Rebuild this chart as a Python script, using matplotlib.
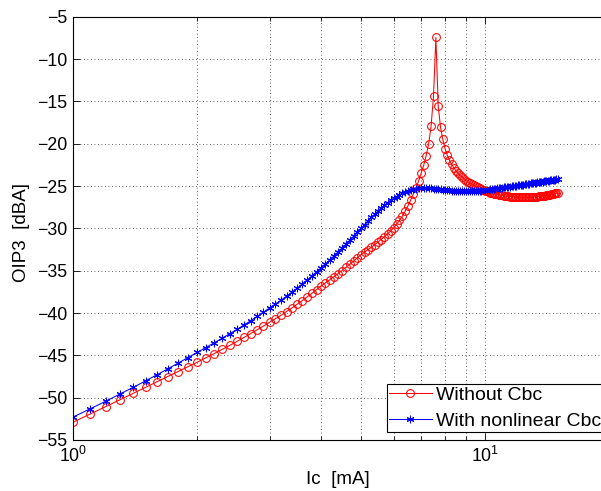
import numpy as np
import matplotlib
matplotlib.use('Agg')
import matplotlib.pyplot as plt
from matplotlib.ticker import LogLocator, NullFormatter

plt.rcParams['font.family'] = ['Liberation Sans', 'DejaVu Sans']
plt.rcParams['mathtext.fontset'] = 'custom'
plt.rcParams['mathtext.rm'] = 'Liberation Sans'
plt.rcParams['mathtext.it'] = 'Liberation Sans:italic'
plt.rcParams['mathtext.default'] = 'regular'

# Collector current sweep [mA]
ic_ma = np.round(np.arange(10, 151) / 10, 1)

oip3_without_cbc = [
    -52.90, -51.94, -51.06, -50.25, -49.49, -48.78, -48.12, -47.50, -46.91, -46.35,
    -45.82, -45.30, -44.80, -44.31, -43.83, -43.36, -42.89, -42.43, -41.98, -41.54,
    -41.10, -40.68, -40.26, -39.83, -39.40, -38.97, -38.54, -38.11, -37.68, -37.24,
    -36.80, -36.44, -36.08, -35.72, -35.35, -34.98, -34.61, -34.24, -33.86, -33.48,
    -33.10, -32.81, -32.52, -32.23, -31.93, -31.63, -31.32, -31.00, -30.67, -30.32,
    -29.95, -29.53, -29.07, -28.56, -27.99, -27.36, -26.68, -25.96, -25.22, -24.42,
    -23.50, -22.55, -21.40, -20.00, -17.90, -14.40, -7.45, -15.55, -18.05, -19.50,
    -20.60, -21.35, -21.95, -22.45, -22.85, -23.20, -23.50, -23.75, -23.97, -24.17,
    -24.35, -24.51, -24.66, -24.80, -24.93, -25.05, -25.16, -25.27, -25.37, -25.46,
    -25.55, -25.63, -25.70, -25.77, -25.83, -25.89, -25.94, -25.99, -26.03, -26.07,
    -26.11, -26.14, -26.17, -26.20, -26.22, -26.24, -26.26, -26.28, -26.29, -26.30,
    -26.31, -26.32, -26.32, -26.33, -26.33, -26.33, -26.33, -26.32, -26.32, -26.31,
    -26.30, -26.29, -26.28, -26.26, -26.25, -26.23, -26.21, -26.19, -26.17, -26.15,
    -26.12, -26.10, -26.07, -26.04, -26.01, -25.98, -25.95, -25.92, -25.88, -25.85,
    -25.81,
]

oip3_nonlinear_cbc = [
    -52.30, -51.33, -50.43, -49.58, -48.78, -48.02, -47.29, -46.59, -45.92, -45.27,
    -44.64, -44.08, -43.53, -42.99, -42.46, -41.94, -41.42, -40.91, -40.40, -39.90,
    -39.40, -38.94, -38.48, -38.01, -37.54, -37.07, -36.59, -36.11, -35.63, -35.14,
    -34.65, -34.19, -33.73, -33.27, -32.81, -32.34, -31.87, -31.40, -30.93, -30.46,
    -30.00, -29.55, -29.12, -28.71, -28.32, -27.95, -27.60, -27.27, -26.97, -26.70,
    -26.46, -26.24, -26.04, -25.86, -25.70, -25.56, -25.45, -25.36, -25.30, -25.26,
    -25.24, -25.24, -25.25, -25.27, -25.29, -25.32, -25.35, -25.38, -25.41, -25.44,
    -25.47, -25.50, -25.52, -25.54, -25.56, -25.58, -25.59, -25.60, -25.61, -25.62,
    -25.62, -25.62, -25.62, -25.61, -25.60, -25.59, -25.58, -25.56, -25.54, -25.52,
    -25.50, -25.47, -25.44, -25.41, -25.38, -25.35, -25.32, -25.29, -25.26, -25.23,
    -25.20, -25.17, -25.14, -25.11, -25.08, -25.06, -25.03, -25.00, -24.98, -24.95,
    -24.93, -24.90, -24.88, -24.85, -24.83, -24.80, -24.78, -24.75, -24.73, -24.70,
    -24.68, -24.65, -24.63, -24.60, -24.58, -24.55, -24.53, -24.50, -24.48, -24.45,
    -24.43, -24.40, -24.38, -24.35, -24.33, -24.30, -24.28, -24.25, -24.23, -24.20,
    -24.18,
]

y_ticks = [-55, -50, -45, -40, -35, -30, -25, -20, -15, -10, -5]
series_labels = ['Without Cbc', 'With nonlinear Cbc']

W, H = 601, 491
fig = plt.figure(figsize=(W / 100, H / 100), dpi=100)
ax_w, ax_h = 536, 423.3
ax = fig.add_axes([73 / W, 51 / H, ax_w / W, ax_h / H])

ax.plot(ic_ma, oip3_without_cbc, color='#ff0000', marker='o', ms=5.6,
        mfc='none', mew=0.75, lw=0.75, label=series_labels[0])
ax.plot(ic_ma, oip3_nonlinear_cbc, color='#0000ff', marker=(6, 2, 0), ms=5.4,
        mew=0.75, lw=0.75, label=series_labels[1])

ax.set_xscale('log')
ax.set_xlim(1, 20)
ax.set_ylim(-55, -5)
ax.set_yticks(y_ticks)
ax.xaxis.set_major_locator(LogLocator(base=10, numticks=10))
ax.xaxis.set_minor_locator(LogLocator(base=10, subs=np.arange(2, 10), numticks=20))
ax.xaxis.set_minor_formatter(NullFormatter())

grid_kw = dict(color='#303030', linestyle=(0, (1, 3.2)), linewidth=0.6)
ax.grid(True, which='major', axis='both', **grid_kw)
ax.grid(True, which='minor', axis='x', **grid_kw)

ax.spines['right'].set_visible(False)
ax.tick_params(axis='both', which='both', direction='in', top=True, right=False,
               labelsize=12.8, width=0.6, colors='black')
ax.tick_params(axis='both', which='major', length=5, pad=4)
ax.tick_params(axis='x', which='minor', length=3)
for s in ax.spines.values():
    s.set_linewidth(0.8)

ax.set_xlabel('Ic  [mA]', fontsize=13.5)
ax.set_ylabel('OIP3  [dBA]', fontsize=13.5)
ax.xaxis.set_label_coords((338 - 73) / ax_w, -(480 - 440) / ax_h)
ax.yaxis.set_label_coords(-(73 - 22) / ax_w, (440 - 233) / ax_h)
ax.xaxis.label.set_verticalalignment('center')
ax.yaxis.label.set_verticalalignment('center')

leg = ax.legend(loc='lower right',
                bbox_to_anchor=((603 - 73) / ax_w, (440 - 432) / ax_h),
                fontsize=14, fancybox=False, framealpha=1,
                edgecolor='black', handlelength=2.2, handletextpad=0.2,
                borderpad=0.12, labelspacing=0.4, borderaxespad=0)
leg.get_frame().set_linewidth(0.8)

fig.savefig('out.png', dpi=100)
